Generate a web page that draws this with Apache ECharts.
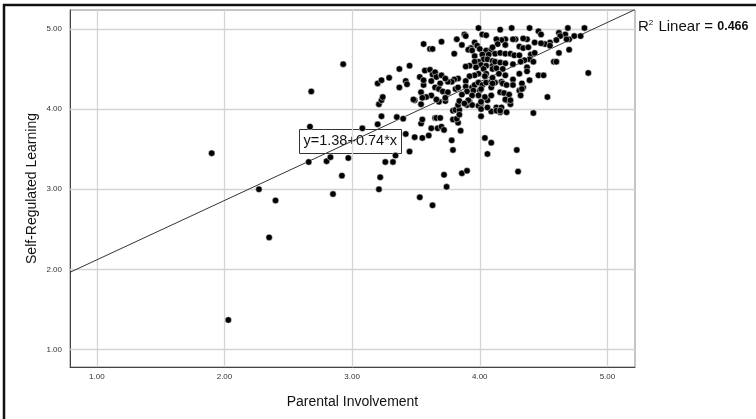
<!DOCTYPE html>
<html>
<head>
<meta charset="utf-8">
<script src="https://cdn.jsdelivr.net/npm/echarts@6/dist/echarts.min.js"></script>
<style>
  html, body { margin: 0; padding: 0; background: #fff; }
  #chart { width: 756px; height: 419px; }
</style>
</head>
<body>
<div id="chart"></div>
<script>
// Parental Involvement (x) and Self-Regulated Learning (y), one entry per respondent
const involvement = [
  1.90, 2.03, 2.27, 2.40, 2.35, 2.67, 2.66, 2.93, 2.68, 3.08,
  2.80, 2.83, 2.97, 2.92, 2.85, 3.21, 3.22, 3.26, 3.32, 3.34,
  3.42, 3.49, 3.45, 3.20, 3.23, 3.35, 3.40, 3.21, 3.23,
  3.79, 3.72, 3.86, 3.90, 3.74, 3.53, 3.63, 4.06, 4.29, 4.30,
  3.55, 3.60, 3.54, 3.55, 3.62, 3.65, 3.66, 3.67, 3.70, 3.72,
  3.79, 3.81, 3.84, 3.83, 3.85, 3.78, 4.01, 4.04, 4.09, 4.09,
  4.13, 4.17, 4.16, 4.21, 4.42, 4.01, 3.83, 3.90, 3.92, 3.94,
  3.84, 3.73, 3.68, 3.49, 4.24, 4.21, 4.06,
  3.99, 4.02, 4.05, 3.88, 3.89, 3.82, 3.86, 3.70, 3.56, 3.61,
  3.63, 3.80, 3.96, 3.98, 3.93, 3.91, 3.94, 4.00, 4.05, 4.02,
  4.09, 4.12, 4.07, 3.96, 4.03, 4.06, 4.10, 3.99, 3.96, 3.92,
  3.89, 4.01, 4.05, 4.10, 4.12, 3.97, 3.99, 4.03, 4.05, 4.10,
  3.96, 3.92, 3.89, 3.83, 3.80, 3.78, 3.75, 3.69, 3.65, 3.68,
  3.71, 3.75, 3.81, 3.83, 3.89, 3.94, 3.96, 3.99, 4.02, 4.05,
  4.09, 4.12, 4.09, 4.00, 3.95, 3.90, 3.86, 3.94, 3.99, 4.04,
  4.09, 3.91, 3.88, 3.99, 4.01, 4.06, 4.13, 3.73, 3.66, 3.62,
  3.58, 3.54, 3.55, 3.54, 3.48, 3.56, 3.53, 3.56, 3.57, 3.61,
  3.63, 3.65, 3.66, 3.62, 3.70, 3.73, 3.45, 3.37, 3.29, 3.42,
  3.43, 3.37, 3.20, 3.23, 3.24, 3.79, 3.82, 3.84, 3.69,
  4.16, 4.25, 4.39, 4.69, 4.82, 4.46, 4.48, 4.62, 4.67, 4.63,
  4.74, 4.79, 4.70, 4.68, 4.60, 4.55, 4.51, 4.55, 4.43, 4.48,
  4.37, 4.34, 4.28, 4.26, 4.20, 4.17, 4.13, 4.14, 4.20, 4.31,
  4.34, 4.38, 4.10, 4.16, 4.20, 4.24, 4.27, 4.31, 4.40, 4.43,
  4.39, 4.35, 4.32, 4.16, 4.20, 4.26, 4.37, 4.42, 4.13, 4.18,
  4.62, 4.70, 4.58, 4.60, 4.85, 4.46, 4.50, 4.31, 4.37, 4.26,
  4.26, 4.20, 4.15, 4.10, 4.04, 4.10, 4.17, 4.18, 4.21, 4.39,
  4.34, 4.31, 4.33, 4.01, 4.16, 4.19, 4.23, 4.20, 4.24, 4.01,
  4.16, 4.53, 4.32, 4.33
];
const srl = [
  3.45, 1.37, 3.00, 2.86, 2.40, 3.78, 3.34, 4.56, 4.22, 3.76,
  3.35, 3.40, 3.39, 3.17, 2.94, 3.00, 3.15, 3.34, 3.34, 3.42,
  3.69, 3.65, 3.47, 3.81, 3.91, 3.90, 3.88, 4.06, 4.11,
  3.49, 3.18, 3.20, 3.23, 3.03, 2.90, 2.80, 3.44, 3.49, 3.22,
  3.64, 3.67, 3.82, 3.87, 3.76, 3.89, 3.89, 3.76, 3.78, 3.74,
  3.98, 3.99, 3.99, 3.83, 3.73, 3.61, 3.91, 3.64, 3.58, 3.97,
  4.02, 4.02, 3.96, 3.96, 3.95, 4.07, 4.05, 4.05, 4.09, 4.05,
  4.10, 4.10, 4.09, 4.11, 4.06, 4.11, 4.11,
  5.01, 4.93, 4.92, 4.93, 4.91, 4.87, 4.80, 4.84, 4.81, 4.75,
  4.75, 4.69, 4.83, 4.79, 4.76, 4.74, 4.73, 4.75, 4.73, 4.68,
  4.74, 4.69, 4.68, 4.66, 4.62, 4.62, 4.60, 4.59, 4.59, 4.54,
  4.53, 4.55, 4.54, 4.54, 4.59, 4.52, 4.44, 4.50, 4.44, 4.50,
  4.42, 4.41, 4.35, 4.38, 4.37, 4.34, 4.34, 4.32, 4.27, 4.25,
  4.22, 4.21, 4.25, 4.27, 4.28, 4.27, 4.30, 4.33, 4.30, 4.33,
  4.34, 4.33, 4.27, 4.23, 4.23, 4.22, 4.18, 4.17, 4.17, 4.15,
  4.17, 4.11, 4.07, 4.04, 4.00, 4.02, 3.98, 4.14, 4.12, 4.17,
  4.15, 4.21, 4.14, 4.06, 4.12, 4.30, 4.40, 4.36, 4.48, 4.49,
  4.43, 4.46, 4.40, 4.35, 4.42, 4.38, 4.54, 4.50, 4.39, 4.35,
  4.31, 4.27, 4.32, 4.36, 4.15, 3.87, 3.88, 3.93, 3.89,
  4.99, 5.01, 5.01, 5.01, 5.01, 4.97, 4.93, 4.95, 4.93, 4.91,
  4.91, 4.91, 4.87, 4.87, 4.86, 4.83, 4.81, 4.79, 4.83, 4.82,
  4.87, 4.88, 4.87, 4.87, 4.87, 4.86, 4.87, 4.81, 4.80, 4.78,
  4.76, 4.77, 4.77, 4.70, 4.69, 4.69, 4.67, 4.67, 4.68, 4.70,
  4.62, 4.61, 4.59, 4.58, 4.57, 4.56, 4.52, 4.59, 4.51, 4.50,
  4.70, 4.74, 4.59, 4.59, 4.45, 4.42, 4.42, 4.44, 4.47, 4.37,
  4.30, 4.42, 4.44, 4.39, 4.41, 4.32, 4.34, 4.32, 4.30, 4.36,
  4.27, 4.23, 4.32, 4.25, 4.21, 4.20, 4.18, 4.12, 4.11, 4.09,
  3.98, 4.15, 4.17, 4.25
];

// fitted line y = a + b * x, drawn across the x range
const fitA = 1.38;
const fitB = 0.74;
const xRange = [0.79, 5.216];
const yRange = [0.784, 5.235];
const xTicks = [1, 2, 3, 4, 5];
const yTicks = [1, 2, 3, 4, 5];
const r2 = '0.466';

const FONT = 'Liberation Sans, Arial, sans-serif';
const points = involvement.map((v, i) => [v, srl[i]]);
const fitLine = xRange.map(x => [x, fitA + fitB * x]);

function valueAxis(range, ticks, extra) {
  return Object.assign({
    type: 'value', min: range[0], max: range[1],
    nameLocation: 'middle', nameMoveOverlap: false,
    nameTextStyle: { fontFamily: FONT, fontSize: 14, color: '#111' },
    axisLine: { show: true, lineStyle: { color: '#444', width: 1 } },
    axisTick: { show: false, customValues: ticks },
    axisLabel: {
      customValues: ticks, formatter: v => Number(v).toFixed(2),
      fontFamily: FONT, fontSize: 8, color: '#333', hideOverlap: false
    },
    splitLine: { show: false }
  }, extra);
}

// light gridlines at the labelled values
const gridLines = xTicks.map(v => ({ xAxis: v })).concat(yTicks.map(v => ({ yAxis: v })));

const chart = echarts.init(document.getElementById('chart'), null, { renderer: 'canvas' });
const xAx = valueAxis(xRange, xTicks, { name: 'Parental Involvement', nameGap: 28 });
xAx.axisLabel.margin = 6;
const yAx = valueAxis(yRange, yTicks, { name: 'Self-Regulated Learning', nameGap: 31, nameRotate: 90 });
yAx.axisLabel.margin = 8;

chart.setOption({
  animation: false,
  backgroundColor: '#fff',
  grid: { left: 70, right: 121, top: 10, bottom: 52, show: true, borderColor: '#8a8a8a', borderWidth: 1 },
  xAxis: xAx,
  yAxis: yAx,
  series: [
    {
      type: 'line', data: fitLine, symbol: 'none', silent: true, clip: true,
      lineStyle: { color: '#333', width: 1 }, z: 2,
      markLine: {
        silent: true, symbol: 'none', label: { show: false },
        lineStyle: { color: '#d4d4d4', width: 1.3, type: 'solid' },
        data: gridLines, z: 1
      }
    },
    {
      type: 'scatter', data: points, symbolSize: 6.5,
      itemStyle: { color: '#000', opacity: 1, borderColor: '#fff', borderWidth: 0.5 }, z: 3
    }
  ],
  graphic: [
    // outer frame (left and top edges visible in the export)
    { type: 'polyline', shape: { points: [[4, 419], [4, 5], [756, 5]] }, style: { stroke: '#111', lineWidth: 2.5, fill: null }, z: 10 },
    {
      type: 'group', left: 299, top: 129, z: 20,
      children: [
        { type: 'rect', shape: { x: 0, y: 0, width: 102, height: 24 }, style: { fill: '#fff', stroke: '#333', lineWidth: 1 } },
        { type: 'text', left: 4, top: 4, style: { text: 'y=1.38+0.74*x', font: '14.5px ' + FONT, fill: '#111' } }
      ]
    },
    {
      type: 'text', left: 638, top: 19, z: 20,
      style: {
        text: 'R{sup|2} Linear = {num|' + r2 + '}',
        font: '15px ' + FONT, fill: '#111',
        rich: {
          sup: { fontSize: 8, verticalAlign: 'top', padding: [0, 1, 8, 0], fontFamily: FONT },
          num: { fontSize: 12.5, fontFamily: FONT, fontWeight: 'bold' }
        }
      }
    }
  ]
});
</script>
</body>
</html>
